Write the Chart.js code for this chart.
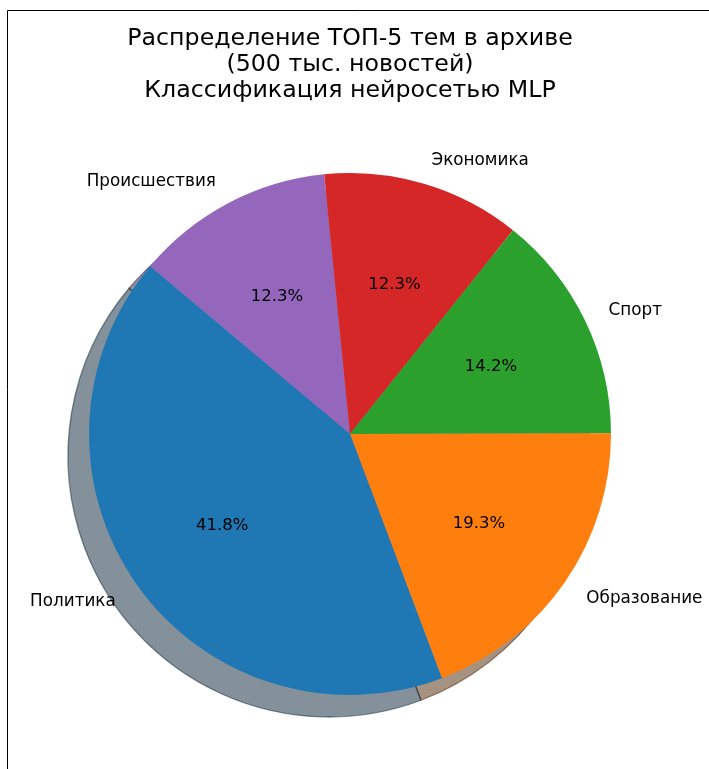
<!DOCTYPE html>
<html>
<head>
<meta charset="utf-8">
<script src="https://cdn.jsdelivr.net/npm/chart.js@4.4.1/dist/chart.umd.min.js"></script>
<style>
  html, body { margin: 0; padding: 0; background: #ffffff; }
  #c { display: block; }
</style>
</head>
<body>
<canvas id="c" width="709" height="769"></canvas>
<script>
// Data (listed clockwise, as Chart.js draws; matplotlib drew them counter-clockwise)
const categories = ['Происшествия', 'Экономика', 'Спорт', 'Образование', 'Политика'];
const shares = [12.3, 12.3, 14.2, 19.3, 41.8];
const colors = ['#9467bd', '#d62728', '#2ca02c', '#ff7f0e', '#1f77b4'];
const titleLines = ['Распределение ТОП-5 тем в архиве', '(500 тыс. новостей)', 'Классификация нейросетью MLP'];

const FONT = "'DejaVu Sans', 'Liberation Sans', sans-serif";

function hexToRgb(h) {
  const n = parseInt(h.slice(1), 16);
  return [(n >> 16) & 255, (n >> 8) & 255, n & 255];
}

const shadowPlugin = {
  id: 'pieShadow',
  beforeDatasetsDraw(chart) {
    const ctx = chart.ctx;
    const meta = chart.getDatasetMeta(0);
    const dx = -21, dy = 22;
    ctx.save();
    meta.data.forEach((arc, i) => {
      const p = arc.getProps(['x', 'y', 'startAngle', 'endAngle', 'outerRadius'], true);
      const [r, g, b] = hexToRgb(colors[i]);
      const c = `rgba(${Math.round(r * 0.3)},${Math.round(g * 0.3)},${Math.round(b * 0.3)},0.5)`;
      ctx.beginPath();
      ctx.moveTo(p.x + dx, p.y + dy);
      ctx.arc(p.x + dx, p.y + dy, p.outerRadius, p.startAngle, p.endAngle);
      ctx.closePath();
      ctx.fillStyle = c;
      ctx.fill();
      ctx.lineWidth = 1.3;
      ctx.strokeStyle = c;
      ctx.stroke();
    });
    ctx.restore();
  }
};

const labelPlugin = {
  id: 'pieLabels',
  afterDatasetsDraw(chart) {
    const ctx = chart.ctx;
    const meta = chart.getDatasetMeta(0);
    ctx.save();
    ctx.fillStyle = '#000000';
    ctx.textBaseline = 'middle';
    meta.data.forEach((arc, i) => {
      const p = arc.getProps(['x', 'y', 'startAngle', 'endAngle', 'outerRadius'], true);
      const mid = (p.startAngle + p.endAngle) / 2;
      const cx = Math.cos(mid), cy = Math.sin(mid);
      // category label
      ctx.font = `16.8px ${FONT}`;
      const lx = p.x + cx * p.outerRadius * 1.1;
      const ly = p.y + cy * p.outerRadius * 1.1 + 1.5;
      ctx.textAlign = cx > 0 ? 'left' : 'right';
      ctx.fillText(categories[i], lx, ly);
      // percentage
      ctx.font = `16.5px ${FONT}`;
      const px = p.x + cx * p.outerRadius * 0.6;
      const py = p.y + cy * p.outerRadius * 0.6 + 1;
      ctx.textAlign = 'center';
      ctx.fillText(shares[i].toFixed(1) + '%', px, py);
    });
    ctx.restore();
  }
};

const framePlugin = {
  id: 'frame',
  afterDraw(chart) {
    const ctx = chart.ctx;
    ctx.save();
    ctx.strokeStyle = '#000000';
    ctx.lineWidth = 1;
    ctx.beginPath();
    ctx.moveTo(7.5, 769);
    ctx.lineTo(7.5, 10.5);
    ctx.lineTo(709, 10.5);
    ctx.stroke();
    ctx.restore();
  }
};

new Chart(document.getElementById('c'), {
  type: 'pie',
  data: {
    labels: categories,
    datasets: [{
      data: shares,
      backgroundColor: colors,
      borderWidth: 0,
      hoverOffset: 0,
      offset: 0
    }]
  },
  options: {
    responsive: false,
    animation: false,
    devicePixelRatio: 1,
    events: [],
    rotation: -50,
    layout: { padding: { left: 89, right: 98, top: 0, bottom: 74 } },
    plugins: {
      legend: { display: false },
      tooltip: { enabled: false },
      title: {
        display: true,
        text: titleLines,
        color: '#000000',
        font: { family: FONT, size: 23.7, weight: 'normal', lineHeight: 1.097 },
        padding: { top: 26, bottom: 69 }
      }
    }
  },
  plugins: [shadowPlugin, labelPlugin, framePlugin]
});
</script>
</body>
</html>
